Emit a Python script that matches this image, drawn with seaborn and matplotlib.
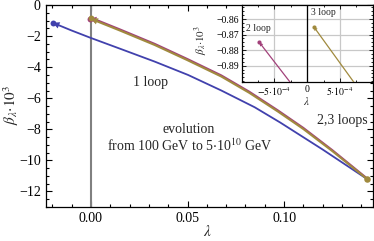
import matplotlib
matplotlib.use("Agg")
import matplotlib.pyplot as plt
import seaborn as sns
import pandas as pd
from matplotlib.ticker import MultipleLocator, FixedLocator, FixedFormatter

# main panel data (lambda, beta_lambda * 10^3), from high scale end to low scale end
lam_1loop = [0.143, 0.12, 0.098, 0.0848, 0.0675, 0.0503, 0.033, 0.0157, 0.0, -0.010, -0.0198]
beta_1loop = [-11.2, -9.3, -7.56, -6.58, -5.5, -4.5, -3.64, -2.84, -2.12, -1.64, -1.14]

lam_2loop = [0.143, 0.125, 0.11, 0.0969, 0.082, 0.0675, 0.05, 0.033, 0.015, 0.0036, -0.0007]
beta_2loop = [-11.15, -9.33, -7.9, -6.78, -5.57, -4.52, -3.47, -2.49, -1.56, -0.99, -0.875]

lam_3loop = [0.143, 0.125, 0.11, 0.0969, 0.082, 0.0675, 0.05, 0.033, 0.015, 0.0036, 0.0001]
beta_3loop = [-11.2, -9.4, -7.98, -6.86, -5.65, -4.6, -3.55, -2.57, -1.64, -1.07, -0.865]

# inset data (zoom near lambda = 0)
lam_2loop_in = [-0.00020, -0.00073]
beta_2loop_in = [-0.904, -0.875]
lam_3loop_in = [0.00075, 0.00010]
beta_3loop_in = [-0.903, -0.865]

col_1 = "#4141ad"
col_2 = "#a2417a"
col_3 = "#a08a3e"

sns.set_theme(style="ticks")
plt.rcParams["font.family"] = ["Liberation Serif", "DejaVu Serif"]
plt.rcParams["mathtext.fontset"] = "stix"
plt.rcParams["axes.unicode_minus"] = True

df = pd.concat([
    pd.DataFrame({"lam": lam_1loop, "beta": beta_1loop, "order": "1 loop"}),
    pd.DataFrame({"lam": lam_2loop, "beta": beta_2loop, "order": "2 loop"}),
    pd.DataFrame({"lam": lam_3loop, "beta": beta_3loop, "order": "3 loop"}),
])
df_in = pd.concat([
    pd.DataFrame({"lam": lam_2loop_in, "beta": beta_2loop_in, "order": "2 loop"}),
    pd.DataFrame({"lam": lam_3loop_in, "beta": beta_3loop_in, "order": "3 loop"}),
])
pal = {"1 loop": col_1, "2 loop": col_2, "3 loop": col_3}

fig = plt.figure(figsize=(3.74, 2.41), dpi=100, facecolor="white")
ax = fig.add_axes([0.122, 0.141, 0.875, 0.838])
ax.set_facecolor("white")

ax.axvline(0, color="#808080", lw=1.5, zorder=1)
sns.lineplot(data=df, x="lam", y="beta", hue="order", palette=pal, sort=False,
             estimator=None, legend=False, lw=1.3, ax=ax, zorder=3)
ax.lines[-1].set_linewidth(1.5)


def arrow_end(a, xs, ys, c, ms=12, dot=18):
    a.annotate("", xy=(xs[-1], ys[-1]), xytext=(xs[-2], ys[-2]),
               arrowprops=dict(arrowstyle="-|>", color=c, lw=0.0,
                               mutation_scale=ms, shrinkA=0, shrinkB=0),
               zorder=4)
    a.scatter([xs[-1]], [ys[-1]], s=dot, color=c, zorder=5, linewidths=0)


arrow_end(ax, lam_1loop, beta_1loop, col_1)
arrow_end(ax, lam_2loop, beta_2loop, col_2)
arrow_end(ax, lam_3loop, beta_3loop, col_3)
ax.scatter([lam_3loop[0]], [beta_3loop[0]], s=22, color=col_3, zorder=5, linewidths=0)

ax.set_xlim(-0.0235, 0.146)
ax.set_ylim(-13, 0)
ax.set_xticks([0.0, 0.05, 0.10])
ax.set_xticklabels(["0.00", "0.05", "0.10"])
ax.set_yticks([0, -2, -4, -6, -8, -10, -12])
ax.xaxis.set_minor_locator(MultipleLocator(0.01))
ax.yaxis.set_minor_locator(MultipleLocator(0.5))
ax.tick_params(which="both", direction="in", top=True, right=True,
               labelsize=10, colors="black", width=0.8)
ax.tick_params(which="major", length=4)
ax.tick_params(which="minor", length=2)
for s in ax.spines.values():
    s.set_visible(True)
    s.set_color("black")
    s.set_linewidth(0.9)
ax.set_xlabel(r"$\lambda$", fontsize=11)
ax.set_ylabel(r"$\beta_\lambda{\cdot}10^3$", fontsize=11)
ax.xaxis.set_label_coords(0.493, -0.084)
ax.yaxis.set_label_coords(-0.076, 0.505)

ax.text(0.0309, -4.99, "1 loop", fontsize=10, ha="center", va="center")
ax.text(0.130, -7.46, "2,3 loops", fontsize=10, ha="center", va="center")
ax.text(0.0505, -7.99, "evolution", fontsize=10, ha="center", va="center")
ax.text(0.0511, -9.06, r"from 100 GeV to 5$\cdot$10$^{10}$ GeV", fontsize=10,
        ha="center", va="center")

# inset
axi = fig.add_axes([0.646, 0.66, 0.351, 0.319])
axi.set_facecolor("white")
axi.axvline(0, color="black", lw=0.9, zorder=1)
sns.lineplot(data=df_in, x="lam", y="beta", hue="order", palette=pal, sort=False,
             estimator=None, legend=False, lw=0.9, ax=axi, zorder=3)
arrow_end(axi, lam_2loop_in, beta_2loop_in, col_2, ms=7, dot=9)
arrow_end(axi, lam_3loop_in, beta_3loop_in, col_3, ms=7, dot=9)
axi.set_xlim(-0.001, 0.001)
axi.set_ylim(-0.9005, -0.851)
axi.xaxis.set_major_locator(FixedLocator([-0.0005, 0.0, 0.0005]))
axi.xaxis.set_major_formatter(FixedFormatter(
    [r"$-5{\cdot}10^{-4}$", "0", r"$5{\cdot}10^{-4}$"]))
axi.yaxis.set_major_locator(FixedLocator([-0.86, -0.87, -0.88, -0.89]))
axi.yaxis.set_major_formatter(FixedFormatter(["\u22120.86", "\u22120.87", "\u22120.88", "\u22120.89"]))
axi.xaxis.set_minor_locator(MultipleLocator(0.00025))
axi.yaxis.set_minor_locator(MultipleLocator(0.0025))
axi.grid(True, which="major", color="#c8c8c8", lw=0.9)
axi.tick_params(which="both", direction="in", top=True, right=True,
                labelsize=7, colors="black", width=0.6, pad=2)
axi.tick_params(which="major", length=3)
axi.tick_params(which="minor", length=1.5)
for s in axi.spines.values():
    s.set_visible(True)
    s.set_color("black")
    s.set_linewidth(0.9)
axi.set_xlabel(r"$\lambda$", fontsize=8)
axi.set_ylabel(r"$\beta_\lambda{\cdot}10^3$", fontsize=8)
axi.xaxis.set_label_coords(0.497, -0.17)
axi.yaxis.set_label_coords(-0.24, 0.545)
axi.text(-0.00075, -0.8658, "2 loop", fontsize=7, ha="center", va="center")
axi.text(0.000245, -0.8561, "3 loop", fontsize=7, ha="center", va="center")

fig.savefig("out.png", dpi=100, facecolor="white")
